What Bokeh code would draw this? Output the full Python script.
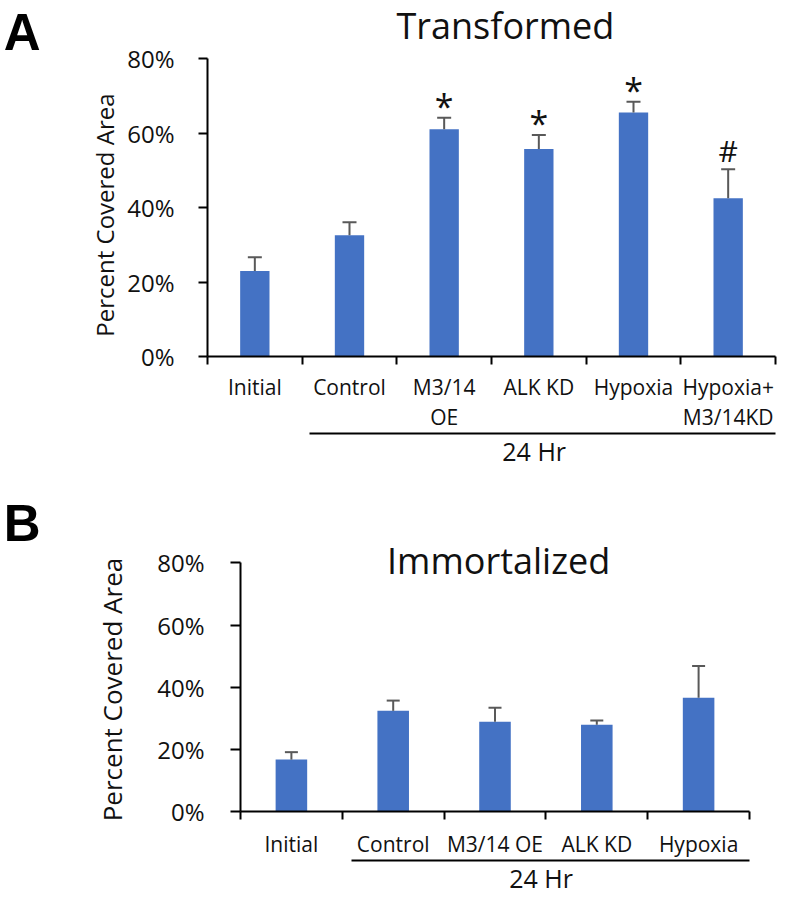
from bokeh.plotting import figure
from bokeh.models import (Range1d, LinearAxis, FixedTicker, PrintfTickFormatter,
                          ColumnDataSource, Whisker, TeeHead)
from bokeh.core.properties import value
from bokeh.embed import file_html
from bokeh.resources import INLINE

# ---------------- data ----------------
cats_a = ["Initial", "Control", "M3/14\nOE", "ALK KD", "Hypoxia", "Hypoxia+\nM3/14KD"]
vals_a = [23.0, 32.6, 61.1, 55.8, 65.6, 42.5]
errs_a = [3.7, 3.5, 3.1, 3.7, 2.9, 7.8]
sig_a = ["", "", "*", "*", "*", "#"]

cats_b = ["Initial", "Control", "M3/14 OE", "ALK KD", "Hypoxia"]
vals_b = [16.7, 32.4, 28.9, 27.9, 36.6]
errs_b = [2.4, 3.3, 4.5, 1.4, 10.2]

y_ticks = [0, 20, 40, 60, 80]
group_label = "24 Hr"
title_a = "Transformed"
title_b = "Immortalized"
y_label = "Percent Covered Area"

# ---------------- style ----------------
FONT = "Open Sans"
BAR = "#4472C4"
ERR = "#595959"
INK = "#111111"
W = 790


def text_axis(p, pos, txt, size, standoff, orientation="horizontal", font=FONT,
              style="normal", side="left"):
    """An axis that carries only one tick label (used for free-standing texts)."""
    ax = LinearAxis(ticker=FixedTicker(ticks=[pos], minor_ticks=[]))
    ax.major_label_overrides = {pos: txt}
    ax.axis_line_color = None
    ax.major_tick_line_color = None
    ax.minor_tick_line_color = None
    ax.major_tick_out = 0
    ax.major_tick_in = 0
    ax.major_label_orientation = orientation
    ax.major_label_text_font = font
    ax.major_label_text_font_style = style
    ax.major_label_text_font_size = size
    ax.major_label_text_color = INK if style == "normal" else "black"
    ax.major_label_standoff = standoff
    p.add_layout(ax, side)
    return ax


def panel(cats, vals, errs, sig, title, letter, height, y_top, mb_left, mb_right, mb_bottom,
          y_tick_out, y_label_standoff, group_bounds, group_x, xlabel_standoff,
          ylab_pos, ylab_size, ylab_standoff, letter_pos, letter_standoff, title_pos, cap):
    n = len(cats)
    xs = [i + 0.5 for i in range(n)]
    p = figure(width=W, height=height, output_backend="svg", toolbar_location=None,
               x_range=Range1d(0, n), y_range=Range1d(0, y_top),
               x_axis_type=None, y_axis_type=None,
               min_border_left=mb_left, min_border_right=mb_right,
               min_border_top=0, min_border_bottom=mb_bottom)
    p.outline_line_color = None
    p.xgrid.grid_line_color = None
    p.ygrid.grid_line_color = None
    p.background_fill_color = "white"
    p.border_fill_color = "white"

    # value axis (drawn only over 0..80 %)
    ya = LinearAxis(ticker=FixedTicker(ticks=y_ticks, minor_ticks=[]),
                    formatter=PrintfTickFormatter(format="%d%%"),
                    bounds=(y_ticks[0], y_ticks[-1]))
    ya.axis_line_width = 2
    ya.axis_line_color = "black"
    ya.major_tick_line_width = 2
    ya.major_tick_out = y_tick_out
    ya.major_tick_in = 0
    ya.minor_tick_line_color = None
    ya.major_label_text_font = FONT
    ya.major_label_text_font_size = "24px"
    ya.major_label_text_color = INK
    ya.major_label_standoff = y_label_standoff
    p.add_layout(ya, "left")

    # rotated y title, then the panel letter, further out on the left
    text_axis(p, ylab_pos, y_label, ylab_size, ylab_standoff, orientation="parallel")
    text_axis(p, letter_pos, letter, "51px", letter_standoff, font="Liberation Sans", style="bold")

    # category axis: labels at centres, tick marks at category boundaries
    xa = LinearAxis(ticker=FixedTicker(ticks=xs, minor_ticks=list(range(n + 1))))
    xa.major_label_overrides = {x: c for x, c in zip(xs, cats)}
    xa.axis_line_width = 2
    xa.axis_line_color = "black"
    xa.major_tick_line_color = None
    xa.major_tick_out = 0
    xa.major_tick_in = 0
    xa.minor_tick_line_color = "black"
    xa.minor_tick_line_width = 2
    xa.minor_tick_out = 8
    xa.minor_tick_in = 0
    xa.major_label_text_font = FONT
    xa.major_label_text_font_size = "21px"
    xa.major_label_text_line_height = 1.08
    xa.major_label_text_color = INK
    xa.major_label_standoff = xlabel_standoff
    p.add_layout(xa, "below")

    # group axis: underline + "24 Hr"
    ga = LinearAxis(ticker=FixedTicker(ticks=[group_x], minor_ticks=[]), bounds=group_bounds)
    ga.major_label_overrides = {group_x: group_label}
    ga.axis_line_width = 2
    ga.axis_line_color = "black"
    ga.major_tick_line_color = None
    ga.minor_tick_line_color = None
    ga.major_tick_out = 0
    ga.major_tick_in = 0
    ga.major_label_text_font = FONT
    ga.major_label_text_font_size = "25px"
    ga.major_label_text_color = INK
    ga.major_label_standoff = 0
    p.add_layout(ga, "below")

    src = ColumnDataSource(dict(x=xs, top=vals, up=[v + e for v, e in zip(vals, errs)]))
    p.vbar(x="x", top="top", width=0.31, source=src, fill_color=BAR, line_color=None)
    p.add_layout(Whisker(base="x", lower="top", upper="up", source=src,
                         line_color=ERR, line_width=2,
                         upper_head=TeeHead(size=cap, line_color=ERR, line_width=2),
                         lower_head=None, level="glyph"))

    if sig:
        star_x = [x for x, s in zip(xs, sig) if s == "*"]
        star_y = [v + e for v, e, s in zip(vals, errs, sig) if s == "*"]
        hash_x = [x for x, s in zip(xs, sig) if s == "#"]
        hash_y = [v + e for v, e, s in zip(vals, errs, sig) if s == "#"]
        p.text(x=star_x, y=star_y, text=["*"] * len(star_x), text_font=value(FONT),
               text_font_size="34px", text_align="center", text_baseline="alphabetic",
               y_offset=-12, text_color=INK)
        p.text(x=hash_x, y=hash_y, text=["#"] * len(hash_x), text_font=value(FONT),
               text_font_size="30px", text_align="center", text_baseline="alphabetic",
               y_offset=-19, text_color=INK)

    # panel title (inside the frame, above the 80 % end of the value axis)
    p.text(x=[title_pos[0]], y=[title_pos[1]], text=[title], text_font=value(FONT),
           text_font_size="36px", text_align="center", text_baseline="alphabetic",
           text_color=INK)
    return p


HA = 470
HB = 427
pa = panel(cats_a, vals_a, errs_a, sig_a, title_a, "A", HA, 95.68, 203, 15, HA - 360,
           9, 24, (1.08, 6.08), 3.451, 8, 38.01, "24px", 3, 87.0, 45, (3.147, 89.0), 14)
pb = panel(cats_b, vals_b, errs_b, None, title_b, "B", HB, 109.76, 233, 41, HB - 344,
           10, 26, (1.094, 5.09), 2.953, 10, 39.25, "26px", 24, 92.85, 51, (2.536, 80.9), 13)

open("out.html", "w").write(file_html([pa, pb], INLINE))
